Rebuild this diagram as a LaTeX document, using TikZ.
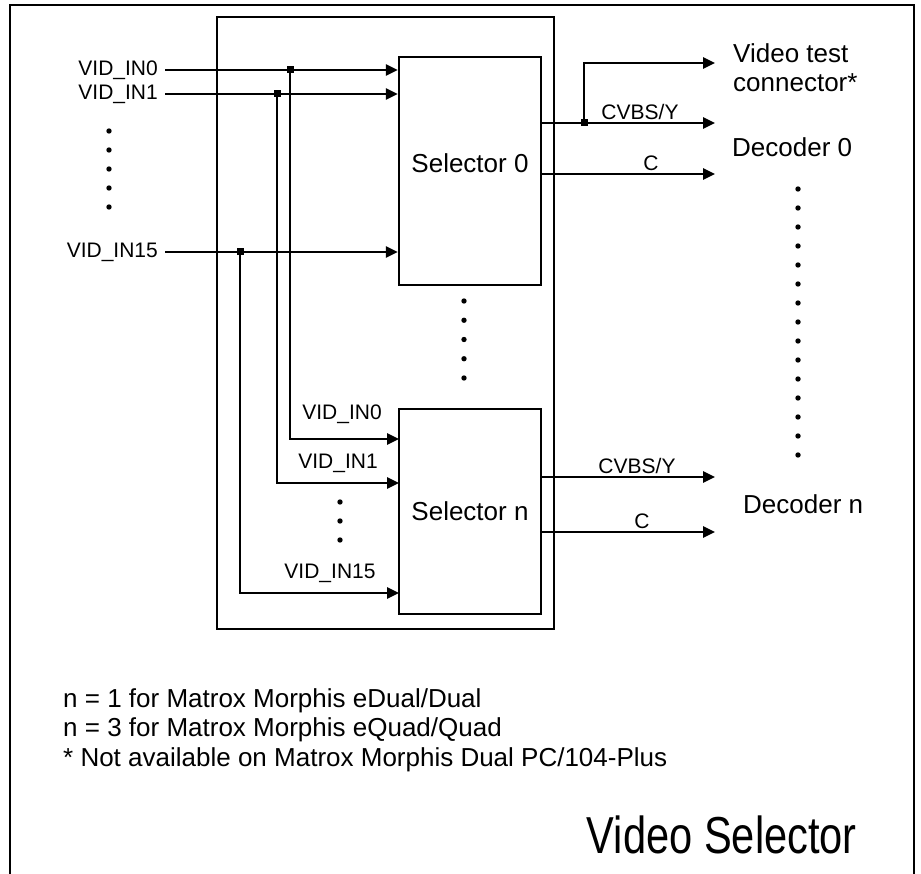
\documentclass[tikz,border=0pt]{standalone}
\usepackage{fontspec}
\usepackage{graphicx}
\setmainfont{Liberation Sans}
\usetikzlibrary{arrows.meta, positioning}

\tikzset{
  box/.style={draw, line width=2.2pt, minimum width=142pt, inner sep=0pt},
  sig/.style={line width=2.6pt, -{Triangle[length=12pt, width=11pt]}},
  junc/.style={fill, minimum size=7pt, inner sep=0pt},
  lbl/.style={font=\fontsize{21}{25}\selectfont, inner sep=0pt},
  big/.style={font=\fontsize{26}{29}\selectfont, inner sep=0pt},
}

\begin{document}
\begin{tikzpicture}[x=1pt, y=-1pt]
\useasboundingbox (0,0) rectangle (921,874);

% page frame, open at the bottom
\draw[line width=1.6pt] (10,874) -- (10,5) -- (914,5) -- (914,874);

% board and selectors
\draw[line width=2.2pt] (217,17) rectangle (554,629);
\node[box, minimum height=228pt] (sel0) at (470,171) {};
\node[box, minimum height=205pt] (seln) at (470,511.5) {};
\node[big] (sel0t) at ([yshift=8pt]sel0.center) {Selector 0};
\node[big] (selnt) at (seln.center) {Selector n};

% video inputs
\node[lbl, anchor=east] (in0) at (158,70) {VID\_IN0};
\node[lbl, anchor=east] (in1) at (158,94) {VID\_IN1};
\node[lbl, anchor=east] (in15) at (158,252) {VID\_IN15};
\draw[sig] ([xshift=7pt]in0.east) -- (in0.east -| sel0.west);
\draw[sig] ([xshift=7pt]in1.east) -- (in1.east -| sel0.west);
\draw[sig] ([xshift=7pt]in15.east) -- (in15.east -| sel0.west);

\foreach \i in {0,...,4} {
  \fill (109,131+19*\i) circle (2.7);
}

% taps to selector n
\node[junc] (j0) at (290,70) {};
\node[junc] (j1) at (277,94) {};
\node[junc] (j15) at (240,252) {};
\coordinate (n0) at (399,439);
\coordinate (n1) at (399,483);
\coordinate (n15) at (399,593);
\draw[sig] (j0.center) |- (n0);
\draw[sig] (j1.center) |- (n1);
\draw[sig] (j15.center) |- (n15);

\node[lbl, anchor=base] (ln0) at (342,420) {VID\_IN0};
\node[lbl, anchor=base] (ln1) at (338,468) {VID\_IN1};
\node[lbl, anchor=base] (ln15) at (330,578) {VID\_IN15};
\foreach \i in {0,...,2} {
  \fill (340,502+19*\i) circle (2.7);
}

\foreach \i in {0,...,4} {
  \fill (464,301+19.25*\i) circle (2.7);
}

% outputs
\coordinate (vt) at (715,63);
\coordinate (y0) at (715,123);
\coordinate (c0) at (715,174);
\coordinate (yn) at (715,477);
\coordinate (cn) at (715,532);
\draw[sig] (sel0.east |- y0) -- (y0);
\draw[sig] (sel0.east |- c0) -- (c0);
\draw[sig] (seln.east |- yn) -- (yn);
\draw[sig] (seln.east |- cn) -- (cn);
\node[junc] (jv) at (584,123) {};
\draw[sig] (jv.center) |- (vt);

\node[lbl, anchor=base] (ly0) at (640,119.5) {CVBS/Y};
\node[lbl, anchor=base] (lc0) at (651,170.5) {C};
\node[lbl, anchor=base] (lyn) at (637,473.5) {CVBS/Y};
\node[lbl, anchor=base] (lcn) at (642,528) {C};

% destinations
\node[big, anchor=north west, align=left] (test) at (733,43) {Video test\\connector*};
\node[big, anchor=base west] (dec0) at (732,157) {Decoder 0};
\node[big, anchor=base west] (decn) at (743,513) {Decoder n};
\foreach \i in {0,...,14} {
  \fill (798,189+19*\i) circle (2.7);
}

% notes
\node[inner sep=0pt, anchor=north west, align=left, font=\fontsize{26}{29.5}\selectfont] (notes) at (63,688)
  {n = 1 for Matrox Morphis eDual/Dual\\
   n = 3 for Matrox Morphis eQuad/Quad\\
   * Not available on Matrox Morphis Dual PC/104-Plus};

\node[font=\fontsize{52}{56}\selectfont, inner sep=0pt, anchor=base east] (title) at (857,853)
  {\scalebox{0.8}[1]{Video Selector}};
\end{tikzpicture}
\end{document}
